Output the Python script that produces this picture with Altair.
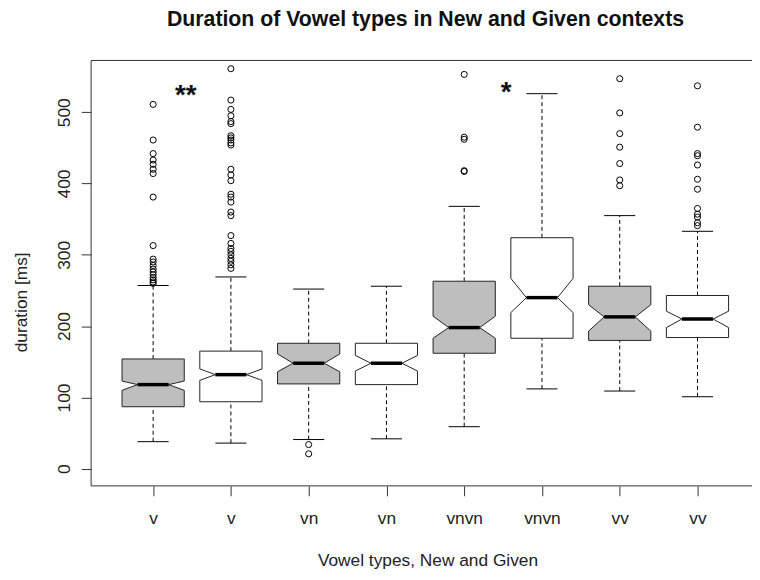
import altair as alt
import pandas as pd

# ---------------- data ----------------
labels = ["v", "v", "vn", "vn", "vnvn", "vnvn", "vv", "vv"]
contexts = ["New", "Given", "New", "Given", "New", "Given", "New", "Given"]

lower_whisker = [38, 36, 41, 42, 59, 112, 109, 101]
q1 = [87, 94, 119, 118, 162, 183, 180, 184]
notch_low = [110, 124, 136, 137, 183, 219, 193, 198]
median = [118, 132, 148, 148, 198, 240, 213, 210]
notch_high = [123, 140, 161, 159, 214, 267, 230, 221]
q3 = [154, 165, 176, 176, 263, 324, 256, 243]
upper_whisker = [257, 269, 252, 256, 368, 526, 355, 333]

out_v_new = [511, 461, 442, 433, 427, 420, 414, 381, 313, 294, 290, 285, 280,
             276, 272, 268, 265, 262, 260]
out_v_given = [561, 517, 504, 495, 487, 484, 467, 464, 461, 457, 454, 420, 412,
               404, 385, 381, 374, 360, 355, 327, 316, 309, 305, 300, 295, 291,
               286, 281]
out_vn_new = [34, 21]
out_vn_given = []
out_vnvn_new = [553, 465, 462, 418, 417]
out_vnvn_given = []
out_vv_new = [547, 499, 470, 451, 428, 405, 397]
out_vv_given = [537, 479, 442, 439, 426, 406, 392, 365, 357, 353, 345, 341]

sig_text = ["**", "*"]
sig_x = [1.42, 5.54]
sig_y = [511, 516]

y_ticks = [0, 100, 200, 300, 400, 500]

# ---------------- layout constants ----------------
W, H = 668, 430
FONT = "Liberation Sans"
FS = 17.5

positions = list(range(1, len(labels) + 1))
box_df = pd.DataFrame(dict(pos=positions, label=labels, context=contexts,
                           lw=lower_whisker, q1=q1, med=median, q3=q3,
                           uw=upper_whisker))

poly_rows = []
for i in range(len(labels)):
    for yv, half in [(q1[i], 0.4), (notch_low[i], 0.4), (median[i], 0.2),
                     (notch_high[i], 0.4), (q3[i], 0.4)]:
        poly_rows.append(dict(box=i, context=contexts[i], y=yv,
                              xl=positions[i] - half, xr=positions[i] + half))
poly_df = pd.DataFrame(poly_rows)

out_lists = [out_v_new, out_v_given, out_vn_new, out_vn_given,
             out_vnvn_new, out_vnvn_given, out_vv_new, out_vv_given]
out_df = pd.DataFrame([dict(pos=positions[i], y=v)
                       for i, lst in enumerate(out_lists) for v in lst])

sig_df = pd.DataFrame(dict(x=sig_x, y=sig_y, t=sig_text))

xscale = alt.Scale(domain=[0.2023, 8.701], nice=False, zero=False)
yscale = alt.Scale(domain=[-24, 572.6], nice=False, zero=False)

label_expr = "[" + ",".join("'%s'" % l for l in labels) + "][datum.value - 1]"

xaxis = alt.Axis(values=positions, labelExpr=label_expr, grid=False, domain=False,
                 tickSize=10, tickColor="#333", labelPadding=28,
                 labelBaseline="alphabetic", labelFont=FONT, labelFontSize=FS,
                 labelColor="#222", title="Vowel types, New and Given",
                 titleFont=FONT, titleFontSize=FS, titleFontWeight="normal",
                 titleColor="#222", titleX=340, titleY=80, titleAnchor="middle",
                 titleAlign="center", titleBaseline="alphabetic")
yaxis = alt.Axis(values=y_ticks, grid=False, domain=False, tickSize=10,
                 tickColor="#333", labelAngle=270, labelAlign="center",
                 labelBaseline="alphabetic", labelPadding=12, labelFont=FONT,
                 labelFontSize=FS, labelColor="#222", title="duration [ms]",
                 titleFont=FONT, titleFontSize=FS, titleFontWeight="normal",
                 titleColor="#222", titleAngle=270, titleX=-65, titleY=244,
                 titleAlign="center", titleBaseline="alphabetic")


def X(field):
    return alt.X(field, type="quantitative", scale=xscale, axis=xaxis)


def Y(field):
    return alt.Y(field, type="quantitative", scale=yscale, axis=yaxis)


base = alt.Chart(box_df)

whisk_up = base.mark_rule(color="black", strokeWidth=1, strokeDash=[4, 3]).encode(
    x=X("pos"), y=Y("q3"), y2="uw")
whisk_lo = base.mark_rule(color="black", strokeWidth=1, strokeDash=[4, 3]).encode(
    x=X("pos"), y=Y("lw"), y2="q1")

caps_base = base.transform_calculate(xa="datum.pos - 0.2", xb="datum.pos + 0.2")
cap_up = caps_base.mark_rule(color="black", strokeWidth=1).encode(
    x=X("xa"), x2="xb", y=Y("uw"))
cap_lo = caps_base.mark_rule(color="black", strokeWidth=1).encode(
    x=X("xa"), x2="xb", y=Y("lw"))
med_line = caps_base.mark_rule(color="black", strokeWidth=3.5).encode(
    x=X("xa"), x2="xb", y=Y("med"))

boxes = alt.Chart(poly_df).mark_area(
    orient="horizontal", stroke="#222", strokeWidth=1, interpolate="linear"
).encode(
    y=Y("y"), x=X("xl"), x2="xr",
    fill=alt.Fill("context:N", scale=alt.Scale(domain=["New", "Given"],
                                               range=["#bebebe", "#ffffff"]),
                  legend=None),
    detail="box:N")

points = alt.Chart(out_df).mark_point(shape="circle", size=38, filled=False,
                                      color="black", strokeWidth=1, opacity=1).encode(
    x=X("pos"), y=Y("y"))

sig = alt.Chart(sig_df).mark_text(font=FONT, fontSize=28, fontWeight="bold",
                                  align="center", baseline="alphabetic",
                                  color="#111").encode(
    x=X("x"), y=Y("y"), text="t:N")

frame_df = pd.DataFrame(dict(k=[0]))
frame_top = alt.Chart(frame_df).mark_rule(color="#333", strokeWidth=1).encode(
    x=alt.value(0), x2=alt.value(W + 2), y=alt.value(0))
frame_bot = alt.Chart(frame_df).mark_rule(color="#333", strokeWidth=1).encode(
    x=alt.value(0), x2=alt.value(W + 2), y=alt.value(H))
frame_left = alt.Chart(frame_df).mark_rule(color="#333", strokeWidth=1).encode(
    x=alt.value(0), y=alt.value(0), y2=alt.value(H))

chart = alt.layer(
    whisk_up, whisk_lo, boxes, med_line, cap_up, cap_lo, points, sig,
    frame_top, frame_bot, frame_left
).properties(
    width=W, height=H,
    title=alt.TitleParams(text="Duration of Vowel types in New and Given contexts",
                          font=FONT, fontSize=21.5, fontWeight="bold", color="#111",
                          anchor="middle", frame="group", baseline="alphabetic",
                          offset=13, dx=4),
    autosize=alt.AutoSizeParams(type="none"),
    padding={"left": 84, "top": 50, "right": 0, "bottom": 82},
    background="white",
).configure_view(stroke=None)

chart.save("out.html", embed_options={"renderer": "svg", "actions": False})
